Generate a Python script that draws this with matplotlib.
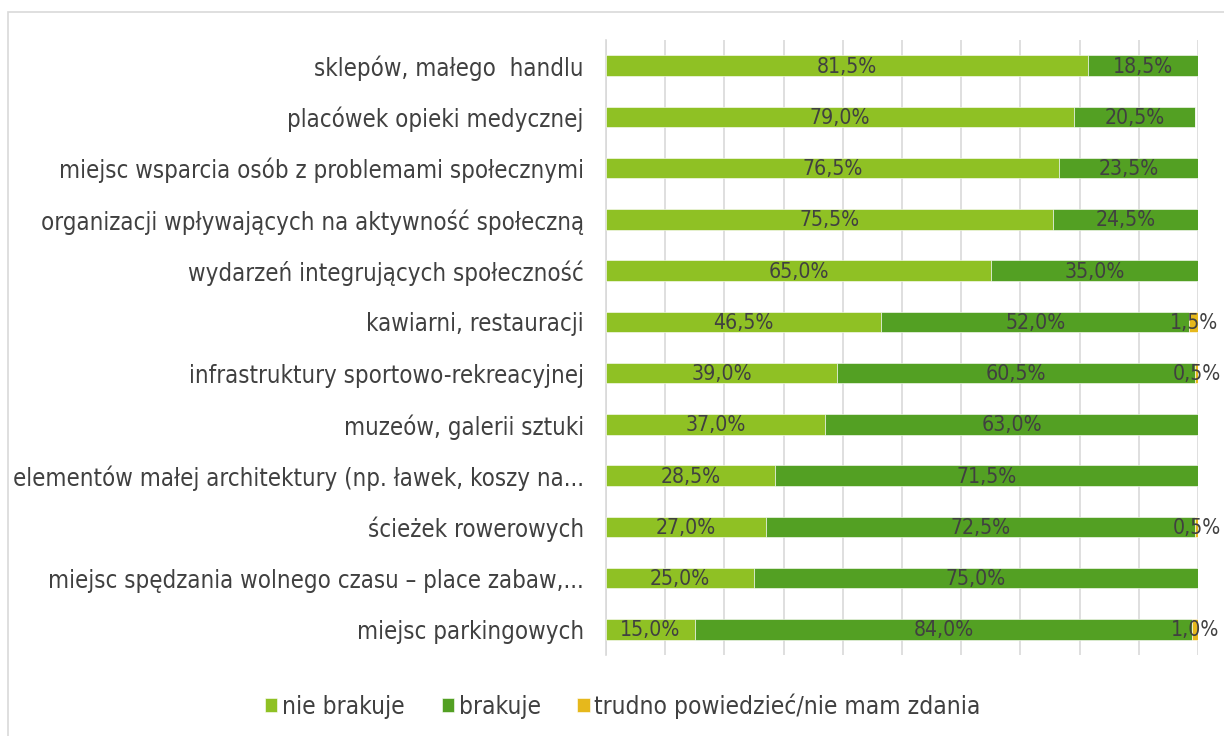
import matplotlib
matplotlib.use('Agg')
import matplotlib.pyplot as plt
from matplotlib.patches import Rectangle
from matplotlib.font_manager import fontManager, FontProperties

categories = [
    'sklepów, małego  handlu',
    'placówek opieki medycznej',
    'miejsc wsparcia osób z problemami społecznymi',
    'organizacji wpływających na aktywność społeczną',
    'wydarzeń integrujących społeczność',
    'kawiarni, restauracji',
    'infrastruktury sportowo-rekreacyjnej',
    'muzeów, galerii sztuki',
    'elementów małej architektury (np. ławek, koszy na...',
    'ścieżek rowerowych',
    'miejsc spędzania wolnego czasu – place zabaw,...',
    'miejsc parkingowych',
]
nie_brakuje = [81.5, 79.0, 76.5, 75.5, 65.0, 46.5, 39.0, 37.0, 28.5, 27.0, 25.0, 15.0]
brakuje = [18.5, 20.5, 23.5, 24.5, 35.0, 52.0, 60.5, 63.0, 71.5, 72.5, 75.0, 84.0]
trudno = [0.0, 0.0, 0.0, 0.0, 0.0, 1.5, 0.5, 0.0, 0.0, 0.5, 0.0, 1.0]

series = [
    ('nie brakuje', nie_brakuje, '#8fc124'),
    ('brakuje', brakuje, '#53a023'),
    ('trudno powiedzieć/nie mam zdania', trudno, '#e6b81c'),
]

# Look for a narrow sans font; otherwise shrink DejaVu Sans a little.
narrow = None
for f in fontManager.ttflist:
    low = f.fname.lower()
    if ('condensed' in low or 'narrow' in low) and f.style == 'normal' \
            and 'bold' not in low and 'light' not in low and 'oblique' not in low \
            and 'italic' not in low and 'semi' not in low and 'extra' not in low:
        narrow = f.fname
        break

if narrow:
    def font(size):
        return FontProperties(fname=narrow, size=size)
    LABEL, VALUE, LEGEND = 17.2, 15.2, 17.6
else:
    def font(size):
        return FontProperties(family='DejaVu Sans', size=size)
    LABEL, VALUE, LEGEND = 15.2, 14, 15.2

TEXT = '#404040'

fig = plt.figure(figsize=(12.24, 7.36), dpi=100)
fig.patches.append(Rectangle((8 / 1224, -0.1), 1.2, 1.1 - 12 / 736,
                             transform=fig.transFigure, fill=False,
                             edgecolor='#d9d9d9', linewidth=1.2))
ax = fig.add_axes([606 / 1224, 1 - 655 / 736, 592 / 1224, 615 / 736])

y = list(range(len(categories)))
left = [0.0] * len(categories)
for label, values, color in series:
    ax.barh(y, values, left=left, height=0.4, color=color, label=label,
            edgecolor='white', linewidth=0.4, zorder=3)
    for i, v in enumerate(values):
        if v > 0:
            ax.text(left[i] + v / 2, i + 0.02, f'{v:.1f}%'.replace('.', ','),
                    ha='center', va='center', fontproperties=font(VALUE),
                    color=TEXT, zorder=4)
    left = [a + b for a, b in zip(left, values)]

ax.set_xlim(0, 100)
ax.set_ylim(len(categories) - 0.5, -0.5)
ax.set_xticks(range(0, 101, 10))
ax.tick_params(axis='x', length=0, labelbottom=False)
ax.set_yticks(y)
ax.set_yticklabels(categories, fontproperties=font(LABEL), color=TEXT)
ax.tick_params(axis='y', length=0, pad=16)
ax.grid(axis='x', color='#d9d9d9', linewidth=1.2, zorder=0)
for side in ('top', 'right', 'bottom'):
    ax.spines[side].set_visible(False)
ax.spines['left'].set_color('#d9d9d9')
ax.spines['left'].set_linewidth(1.2)

fig.legend(loc='center', bbox_to_anchor=(623 / 1224, 1 - 706 / 736), ncol=3,
           frameon=False, prop=font(LEGEND), handlelength=0.5, handleheight=0.5,
           handletextpad=0.2, columnspacing=1.5, labelcolor=TEXT)

fig.savefig('out.png', dpi=100)
